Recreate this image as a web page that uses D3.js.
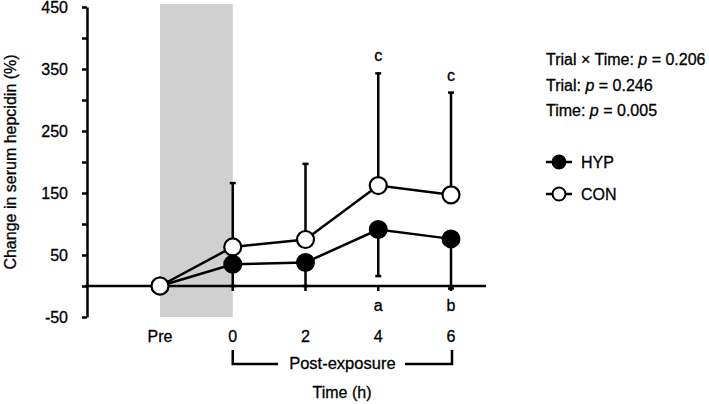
<!DOCTYPE html>
<html lang="en">
<head>
  <meta charset="UTF-8">
  <title>Serum hepcidin</title>
  <script src="https://d3js.org/d3.v7.min.js"></script>
  <style>
    body {
      background-color: white;
      margin: 0;
      padding: 0;
    }
    svg {
      display: block;
      font-family: "Liberation Sans", Arial, sans-serif;
    }
    text {
      fill: black;
      stroke: black;
      stroke-width: 0.3px;
    }
  </style>
</head>
<body>
  <script>
    // Data
    const times = ["Pre", "0", "2", "4", "6"];
    const hypMean = [0, 35, 38, 91, 76];
    const hypLow = [null, 0, 0, 16, -4];       // lower end of SD bar
    const conMean = [0, 63, 75, 162, 147];
    const conHigh = [null, 166, 197, 343, 312]; // upper end of SD bar
    const markAbove = ["", "", "", "c", "c"];
    const markBelow = ["", "", "", "a", "b"];
    const yTicks = [-50, 0, 50, 100, 150, 200, 250, 300, 350, 400, 450];
    const yLabels = [-50, 50, 150, 250, 350, 450];
    const stats = [
      ["Trial \u00d7 Time: ", "0.206"],
      ["Trial: ", "0.246"],
      ["Time: ", "0.005"]
    ];

    const width = 709;
    const height = 404;

    const svg = d3.select("body").append("svg")
      .attr("width", width)
      .attr("height", height);

    const x = d3.scalePoint().domain(times).range([160, 451]);
    const y = d3.scaleLinear().domain([-50, 450]).range([317, 7]);

    const lw = 2.5;

    // grey shaded exposure period
    svg.append("rect")
      .attr("x", x("Pre"))
      .attr("y", 4)
      .attr("width", x("0") - x("Pre"))
      .attr("height", y(-50) - 4)
      .attr("fill", "#d0d0d0");

    // y axis
    const yAxis = svg.append("g")
      .attr("transform", "translate(87,0)")
      .call(d3.axisLeft(y)
        .tickValues(yTicks)
        .tickSize(5)
        .tickSizeOuter(0)
        .tickPadding(14)
        .tickFormat(d => yLabels.includes(d) ? d : ""));
    yAxis.select(".domain").attr("stroke-width", lw);
    yAxis.selectAll(".tick line").attr("stroke-width", lw);
    yAxis.selectAll(".tick text")
      .attr("font-size", 16)
      .attr("font-family", "'Liberation Sans', Arial, sans-serif")
      .attr("fill", "black");

    // zero line
    svg.append("line")
      .attr("x1", 85).attr("x2", 486)
      .attr("y1", y(0)).attr("y2", y(0))
      .attr("stroke", "black")
      .attr("stroke-width", lw);

    // x ticks below zero line (post-exposure points)
    svg.append("g")
      .selectAll("line")
      .data(times.slice(1))
      .enter().append("line")
      .attr("x1", d => x(d)).attr("x2", d => x(d))
      .attr("y1", y(0)).attr("y2", y(0) + 5)
      .attr("stroke", "black")
      .attr("stroke-width", lw);

    // x tick labels
    svg.append("g")
      .selectAll("text")
      .data(times)
      .enter().append("text")
      .attr("x", d => x(d))
      .attr("y", 342)
      .attr("text-anchor", "middle")
      .attr("font-size", 16)
      .text(d => d);

    // error bars
    const errs = svg.append("g")
      .attr("stroke", "black")
      .attr("stroke-width", lw);

    times.forEach((t, i) => {
      if (conHigh[i] !== null) {
        errs.append("line")
          .attr("x1", x(t)).attr("x2", x(t))
          .attr("y1", y(conMean[i])).attr("y2", y(conHigh[i]));
        errs.append("line")
          .attr("x1", x(t) - 3).attr("x2", x(t) + 3)
          .attr("y1", y(conHigh[i])).attr("y2", y(conHigh[i]));
      }
      if (hypLow[i] !== null) {
        errs.append("line")
          .attr("x1", x(t)).attr("x2", x(t))
          .attr("y1", y(hypMean[i])).attr("y2", y(hypLow[i]));
        errs.append("line")
          .attr("x1", x(t) - 3).attr("x2", x(t) + 3)
          .attr("y1", y(hypLow[i])).attr("y2", y(hypLow[i]));
      }
    });

    // series lines
    const line = d3.line()
      .x((d, i) => x(times[i]))
      .y(d => y(d));

    svg.append("path")
      .datum(hypMean)
      .attr("d", line)
      .attr("fill", "none")
      .attr("stroke", "black")
      .attr("stroke-width", lw);

    svg.append("path")
      .datum(conMean)
      .attr("d", line)
      .attr("fill", "none")
      .attr("stroke", "black")
      .attr("stroke-width", lw);

    // markers: HYP filled, CON open on top
    svg.append("g")
      .selectAll("circle")
      .data(hypMean)
      .enter().append("circle")
      .attr("cx", (d, i) => x(times[i]))
      .attr("cy", d => y(d))
      .attr("r", 8.5)
      .attr("fill", "black")
      .attr("stroke", "black")
      .attr("stroke-width", 2);

    svg.append("g")
      .selectAll("circle")
      .data(conMean)
      .enter().append("circle")
      .attr("cx", (d, i) => x(times[i]))
      .attr("cy", d => y(d))
      .attr("r", 8.5)
      .attr("fill", "white")
      .attr("stroke", "black")
      .attr("stroke-width", 2.2);

    // significance letters
    svg.append("g")
      .selectAll("text")
      .data(markAbove)
      .enter().append("text")
      .attr("x", (d, i) => x(times[i]))
      .attr("y", (d, i) => conHigh[i] === null ? 0 : y(conHigh[i]) - 12)
      .attr("text-anchor", "middle")
      .attr("font-size", 16)
      .text(d => d);

    svg.append("g")
      .selectAll("text")
      .data(markBelow)
      .enter().append("text")
      .attr("x", (d, i) => x(times[i]))
      .attr("y", 311)
      .attr("text-anchor", "middle")
      .attr("font-size", 16)
      .text(d => d);

    // post-exposure bracket
    const bx0 = x("0"), bx1 = x("6") + 1, by = 364;
    svg.append("path")
      .attr("d", `M${bx0},350V${by}H278M405,${by}H${bx1}V350`)
      .attr("fill", "none")
      .attr("stroke", "black")
      .attr("stroke-width", lw);
    svg.append("text")
      .attr("x", (bx0 + bx1) / 2)
      .attr("y", 369)
      .attr("text-anchor", "middle")
      .attr("font-size", 16.5)
      .text("Post-exposure");

    // x axis title
    svg.append("text")
      .attr("x", 342)
      .attr("y", 398)
      .attr("text-anchor", "middle")
      .attr("font-size", 16)
      .text("Time (h)");

    // y axis title
    svg.append("text")
      .attr("transform", "translate(10,162) rotate(-90)")
      .attr("text-anchor", "middle")
      .attr("dy", "0.35em")
      .attr("font-size", 16)
      .text("Change in serum hepcidin (%)");

    // statistics
    const st = svg.append("g");
    stats.forEach((s, i) => {
      const t = st.append("text")
        .attr("x", 546)
        .attr("y", 65 + i * 25.5)
        .attr("font-size", 16);
      t.append("tspan").text(s[0]);
      t.append("tspan").attr("font-style", "italic").text("p");
      t.append("tspan").text(" = " + s[1]);
    });

    // legend
    const legend = [["HYP", "black", 162], ["CON", "white", 194]];
    legend.forEach(l => {
      const g = svg.append("g");
      g.append("line")
        .attr("x1", 546).attr("x2", 572)
        .attr("y1", l[2]).attr("y2", l[2])
        .attr("stroke", "black")
        .attr("stroke-width", lw);
      g.append("circle")
        .attr("cx", 559).attr("cy", l[2])
        .attr("r", 6.5)
        .attr("fill", l[1])
        .attr("stroke", "black")
        .attr("stroke-width", 2);
      g.append("text")
        .attr("x", 581)
        .attr("y", l[2])
        .attr("dy", "0.36em")
        .attr("font-size", 16)
        .text(l[0]);
    });
  </script>
</body>
</html>
